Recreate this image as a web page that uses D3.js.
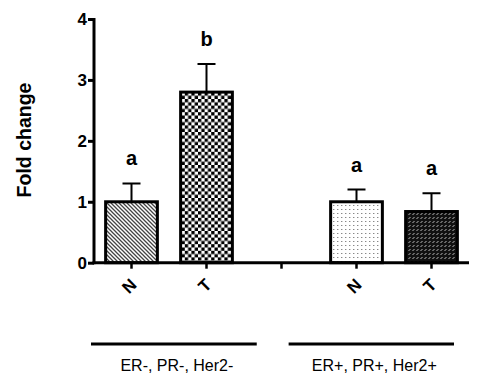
<!DOCTYPE html>
<html>
<head>
<meta charset="utf-8">
<script src="https://cdn.jsdelivr.net/npm/d3@7"></script>
<style>
  html, body { margin: 0; padding: 0; background: #fff; }
  svg { display: block; }
  text { font-family: Arial, "Liberation Sans", Helvetica, sans-serif; }
</style>
</head>
<body>
<script>
// ---- data ----
const categories = ["ER-N", "ER-T", "gap", "ER+N", "ER+T"];
const tickLabels = ["N", "T", "", "N", "T"];
const barKeys = ["ER-N", "ER-T", "ER+N", "ER+T"];
const means = [1.0, 2.8, 1.0, 0.84];
const errors = [0.30, 0.46, 0.20, 0.30];
const letters = ["a", "b", "a", "a"];
const patterns = ["hatch", "checker", "dots", "weave"];
const yTicks = [0, 1, 2, 3, 4];
const groups = ["ER-, PR-, Her2-", "ER+, PR+, Her2+"];

const W = 484, H = 392;
const svg = d3.select("body").append("svg").attr("width", W).attr("height", H);

// ---- patterns ----
const defs = svg.append("defs");
const p1 = defs.append("pattern").attr("id", "hatch").attr("patternUnits", "userSpaceOnUse")
  .attr("width", 4).attr("height", 4);
p1.append("rect").attr("width", 4).attr("height", 4).attr("fill", "#fff");
p1.append("path").attr("d", "M-1,-1 L5,5 M-1,3 L1,5 M3,-1 L5,1").attr("stroke", "#444").attr("stroke-width", 1.3);
const p2 = defs.append("pattern").attr("id", "checker").attr("patternUnits", "userSpaceOnUse")
  .attr("width", 6.6).attr("height", 6.6);
p2.append("rect").attr("width", 6.6).attr("height", 6.6).attr("fill", "#fff");
p2.append("rect").attr("width", 3.3).attr("height", 3.3).attr("fill", "#000");
p2.append("rect").attr("x", 3.3).attr("y", 3.3).attr("width", 3.3).attr("height", 3.3).attr("fill", "#000");
const p3 = defs.append("pattern").attr("id", "dots").attr("patternUnits", "userSpaceOnUse")
  .attr("width", 4).attr("height", 4);
p3.append("rect").attr("width", 4).attr("height", 4).attr("fill", "#fff");
p3.append("rect").attr("x", 1).attr("y", 1).attr("width", 1.4).attr("height", 1).attr("fill", "#888");
const p4 = defs.append("pattern").attr("id", "weave").attr("patternUnits", "userSpaceOnUse")
  .attr("width", 4).attr("height", 4);
p4.append("rect").attr("width", 4).attr("height", 4).attr("fill", "#111");
p4.append("path").attr("d", "M0.5,3 L2.5,1").attr("stroke", "#bbb").attr("stroke-width", 1);

// ---- scales ----
const x = d3.scaleBand().domain(categories).range([94, 469]).paddingInner(0.31).paddingOuter(0.155);
const y = d3.scaleLinear().domain([0, 4]).range([262.7, 19]);

const data = barKeys.map((k, i) => ({ k, m: means[i], e: errors[i], l: letters[i], p: patterns[i] }));

const g = svg.append("g");
g.selectAll(".err").data(data).enter().append("path")
  .attr("d", d => {
    const cx = x(d.k) + x.bandwidth() / 2;
    return `M${cx},${y(d.m)} V${y(d.m + d.e)} M${cx - 9},${y(d.m + d.e)} H${cx + 9}`;
  })
  .attr("stroke", "#000").attr("stroke-width", 2).attr("fill", "none");

g.selectAll(".bar").data(data).enter().append("rect")
  .attr("x", d => x(d.k))
  .attr("y", d => y(d.m))
  .attr("width", x.bandwidth())
  .attr("height", d => y(0) - y(d.m))
  .attr("fill", d => `url(#${d.p})`)
  .attr("stroke", "#000").attr("stroke-width", 3);

g.selectAll(".let").data(data).enter().append("text")
  .attr("x", d => x(d.k) + x.bandwidth() / 2)
  .attr("y", d => y(d.m + d.e) - 18)
  .attr("text-anchor", "middle")
  .attr("font-weight", "bold").attr("font-size", 20)
  .text(d => d.l);

// ---- axes ----
const yAxis = svg.append("g").attr("transform", "translate(94,0)")
  .call(d3.axisLeft(y).tickValues(yTicks).tickFormat(d3.format("d")).tickSize(6).tickSizeOuter(0));
yAxis.select(".domain").attr("stroke-width", 3).attr("d", `M0,${y(4) - 1} V${y(0) + 1.5}`);
yAxis.selectAll(".tick line").attr("stroke-width", 3);
yAxis.selectAll(".tick text").attr("font-size", 17).attr("font-weight", "bold")
  .attr("font-family", "Arial, 'Liberation Sans', sans-serif").attr("fill", "#000").attr("x", -7);

const xAxis = svg.append("g").attr("transform", `translate(0,${y(0)})`)
  .call(d3.axisBottom(x).tickFormat((d, i) => tickLabels[i]).tickSize(6).tickSizeOuter(0));
xAxis.select(".domain").attr("stroke-width", 3).attr("d", "M92.5,0 H469");
xAxis.selectAll(".tick line").attr("stroke-width", 2.5);
xAxis.selectAll(".tick text")
  .attr("font-size", 17).attr("font-weight", "bold")
  .attr("font-family", "Arial, 'Liberation Sans', sans-serif").attr("fill", "#000")
  .attr("text-anchor", "end")
  .attr("transform", "translate(2,19) rotate(-45)")
  .attr("y", 0).attr("dy", "0.35em");

// y label
svg.append("text")
  .attr("transform", "translate(31,140) rotate(-90)")
  .attr("text-anchor", "middle")
  .attr("font-weight", "bold").attr("font-size", 19.5)
  .text("Fold change");

// group lines & labels (positioned relative to the x range)
const r0 = x.range()[0], span = x.range()[1] - x.range()[0];
const lineExt = [[r0 - 0.008 * span, r0 + 0.434 * span], [r0 + 0.519 * span, r0 + 0.96 * span]];
const gg = svg.append("g");
groups.forEach((lab, i) => {
  const [a, b] = lineExt[i];
  gg.append("line").attr("x1", a).attr("x2", b).attr("y1", 344).attr("y2", 344)
    .attr("stroke", "#000").attr("stroke-width", 3);
  gg.append("text").attr("x", (a + b) / 2 + 3).attr("y", 371).attr("text-anchor", "middle")
    .attr("font-size", 16).text(lab);
});
</script>
</body>
</html>
